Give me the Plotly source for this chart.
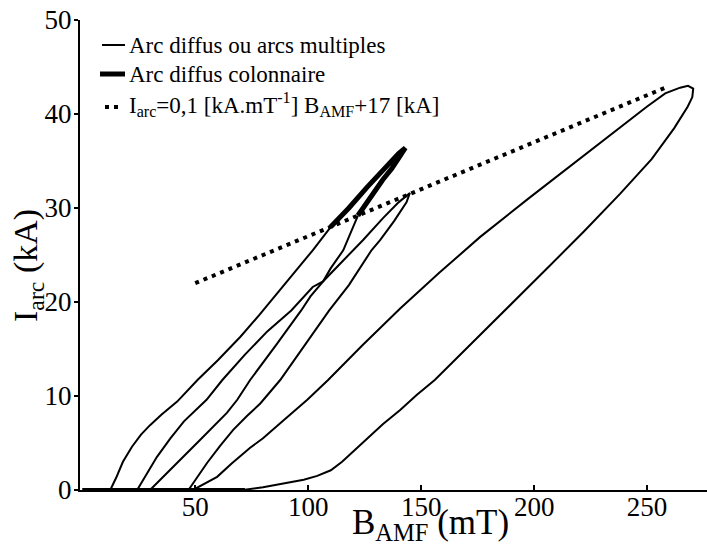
import plotly.graph_objects as go

# ---------------- data ----------------
# Big loop (arc diffus / arcs multiples): rising branch, tip, falling branch
big_B = [71, 80, 89, 98, 104, 110, 115, 120, 126, 133, 140.7, 148, 156, 172, 188,
         205, 222, 238, 252, 262, 268, 270, 270.4, 268.1, 264.6, 258, 250, 235,
         220, 198, 176, 158, 140.7, 124, 108.8, 99.6, 89, 80, 74.3, 66, 59.7, 52, 49]
big_I = [0, 0.3, 0.7, 1.1, 1.5, 2.1, 3.0, 4.1, 5.5, 7.0, 8.5, 10.1, 11.7, 15.5, 19.3,
         23.4, 27.5, 31.5, 35.2, 38.5, 40.8, 41.8, 42.7, 43.0, 42.8, 42.2, 40.8, 38.0,
         35.3, 31.1, 26.9, 23.1, 19.3, 15.4, 11.7, 9.6, 7.4, 5.5, 4.5, 2.8, 1.4, 0.4, 0]

# Rising branch leading to the columnar arc
rise1_B = [12.4, 15, 18, 22, 26, 30, 35, 42, 51, 60, 70, 78.3, 90, 102, 110]
rise1_I = [0, 1.3, 3.0, 4.6, 5.9, 6.9, 8.0, 9.4, 11.7, 13.8, 16.3, 18.6, 22.0, 25.5, 28.0]

# Columnar arc (thick part)
col_B = [110, 118, 126, 134, 140, 143, 141, 137, 133, 127, 122]
col_I = [28.0, 30.0, 32.2, 34.3, 35.8, 36.4, 35.6, 34.2, 33.0, 31.0, 29.2]

# Falling branch after the columnar arc
fall1_B = [122, 119, 115.5, 110, 106.6, 101, 96.9, 86, 74.3, 68.6, 64, 52, 42, 36, 30]
fall1_I = [29.2, 27.5, 25.5, 23.6, 22.2, 20.6, 19.1, 15.5, 11.7, 9.6, 8.2, 5.3, 2.9, 1.5, 0]

# Second small loop (rising, tip, falling)
loop2_B = [24.3, 28, 33, 39, 45, 55, 62, 72, 82, 92.5, 102, 106.6, 115, 124.3, 133, 140, 145,
           143.5, 138, 131.9, 128, 118, 109.3, 98, 87.6, 78.8, 73, 66.8, 61, 55.3, 50, 47]
loop2_I = [0, 1.5, 3.5, 5.5, 7.3, 9.6, 11.7, 14.4, 16.9, 19.1, 21.6, 22.2, 24.3, 26.6, 28.9, 30.6, 31.6,
           30.6, 28.6, 26.6, 25.5, 21.8, 19.1, 15.3, 11.7, 9.2, 7.9, 6.4, 4.7, 2.9, 1.1, 0]

# Zero-current dwell along the B axis
dwell_B = [0, 72]
dwell_I = [0, 0]

# Fit line  I_arc = 0,1 B_AMF + 17
fit_B = [50, 258]
fit_I = [22.0, 42.8]

x_ticks = [50, 100, 150, 200, 250]
y_ticks = [0, 10, 20, 30, 40, 50]

legend_labels = ["Arc diffus ou arcs multiples",
                 "Arc diffus colonnaire",
                 "I<sub>arc</sub>=0,1 [kA.mT<sup>-1</sup>] B<sub>AMF</sub>+17 [kA]"]

FONT = "Liberation Serif"
thin = dict(color="black", width=2)
thick = dict(color="black", width=5)
dotted = dict(color="black", width=4, dash="4px,5px")

fig = go.Figure()
fig.add_trace(go.Scatter(x=big_B, y=big_I, mode="lines", line=thin, name=legend_labels[0]))
for bx, by in [(rise1_B, rise1_I), (fall1_B, fall1_I), (loop2_B, loop2_I)]:
    fig.add_trace(go.Scatter(x=bx, y=by, mode="lines", line=thin, name=legend_labels[0]))
fig.add_trace(go.Scatter(x=dwell_B, y=dwell_I, mode="lines",
                         line=dict(color="black", width=4), name=legend_labels[0],
                         cliponaxis=False))
fig.add_trace(go.Scatter(x=col_B, y=col_I, mode="lines", line=thick, name=legend_labels[1]))
fig.add_trace(go.Scatter(x=fit_B, y=fit_I, mode="lines", line=dotted, name=legend_labels[2]))

# --- legend drawn in the upper-left corner (paper coordinates) ---
L, T, W, H = 80, 20, 627, 470
def px(x):
    return (x - L) / W
def py(y):
    return (T + H - y) / H

shapes = [
    dict(type="line", xref="paper", yref="paper", x0=px(102), x1=px(125), y0=py(45), y1=py(45), line=thin),
    dict(type="line", xref="paper", yref="paper", x0=px(100), x1=px(125), y0=py(74), y1=py(74), line=thick),
    dict(type="line", xref="paper", yref="paper", x0=px(105), x1=px(121), y0=py(107), y1=py(107), line=dotted),
]
annotations = []
for lab, yy in zip(legend_labels, [45, 74, 105]):
    annotations.append(dict(text=lab, xref="paper", yref="paper", x=px(127), y=py(yy),
                            xanchor="left", yanchor="middle", showarrow=False,
                            font=dict(family=FONT, size=23, color="black")))
annotations += [
    dict(text="B<sub>AMF</sub> (mT)", xref="paper", yref="paper",
         x=px(430), y=py(524), xanchor="center", yanchor="middle", showarrow=False,
         font=dict(family=FONT, size=35, color="black")),
    dict(text="I<sub>arc</sub> (kA)", xref="paper", yref="paper", textangle=-90,
         x=px(28), y=py(266), xanchor="center", yanchor="middle", showarrow=False,
         font=dict(family=FONT, size=34, color="black")),
]

fig.update_layout(
    width=707, height=550,
    margin=dict(l=L, r=0, t=T, b=550 - T - H, autoexpand=False),
    plot_bgcolor="white", paper_bgcolor="white",
    font=dict(family=FONT, color="black"),
    showlegend=False,
    hovermode=False,
    xaxis=dict(range=[-1, 276.5], tickvals=x_ticks, showgrid=False, zeroline=False,
               automargin=False,
               showline=True, linecolor="black", linewidth=2,
               ticks="inside", ticklen=5, tickwidth=1.5, tickcolor="black",
               ticklabelstandoff=-8,
               tickfont=dict(family=FONT, size=27, color="black")),
    yaxis=dict(range=[0, 50], tickvals=y_ticks, showgrid=False, zeroline=False,
               automargin=False,
               showline=True, linecolor="black", linewidth=2,
               ticks="outside", ticklen=4, tickwidth=1.5, tickcolor="black",
               ticklabelstandoff=-3,
               tickfont=dict(family=FONT, size=27, color="black")),
    shapes=shapes,
    annotations=annotations,
)

fig.write_html("out.html",
               config={"displayModeBar": False},
               post_script="document.body.style.margin='0px';"
                           "document.body.style.overflow='hidden';")
